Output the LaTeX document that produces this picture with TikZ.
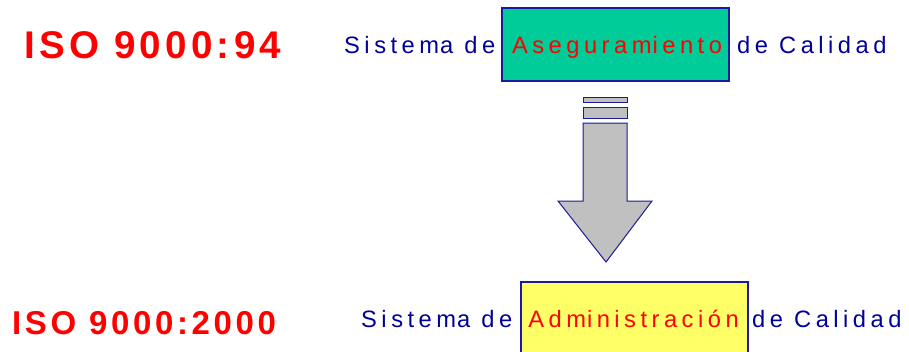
\documentclass[tikz,border=0pt]{standalone}
\usepackage{fontspec}
\setmainfont{Liberation Sans}
\newfontfamily\isofont[LetterSpace=11]{Liberation Sans}
\newfontfamily\txtfont[LetterSpace=19]{Liberation Sans}
\definecolor{navy}{HTML}{000099}
\definecolor{boxgreen}{HTML}{00CC99}
\definecolor{boxyellow}{HTML}{FFFF66}
\definecolor{arrowgray}{HTML}{C0C0C0}
\definecolor{edge}{HTML}{1A1A9A}
\tikzset{
  iso/.style={text=red, anchor=base west, inner sep=0pt, font=\isofont\bfseries},
  plain/.style={text=navy, anchor=base west, inner sep=0pt, font=\txtfont\fontsize{23.7}{28}\selectfont},
  inbox/.style={text=red, anchor=base, inner sep=0pt, font=\txtfont\fontsize{23.7}{28}\selectfont},
  boxline/.style={draw=edge, line width=1.3pt},
}
\begin{document}
\begin{tikzpicture}[x=1pt,y=-1pt]
\useasboundingbox (0,0) rectangle (909,351);
% ISO labels
\node[iso, font=\isofont\bfseries\fontsize{38.6}{44}\selectfont] (iso94) at (24,58) {ISO 9000:94};
\node[iso, font=\isofont\bfseries\fontsize{33}{38}\selectfont] (iso2000) at (12,334) {ISO 9000:2000};
% top row
\fill[boxgreen] (502,8) rectangle (729,81);
\draw[boxline] (502,8) rectangle (729,81);
\node[plain] (s1) at (344,53) {Sistem\kern1pt a de};
\node[inbox] (b1) at (617,53) {Aseguram\kern1pt iento};
\node[plain] (c1) at (737,53) {de Calidad};
% bottom row
\fill[boxyellow] (521,282) rectangle (748,355);
\draw[boxline] (521,282) rectangle (748,355);
\node[plain] (s2) at (361,327) {Sistem\kern1pt a de};
\node[inbox] (b2) at (633.5,327) {Adm\kern1pt inistración};
\node[plain] (c2) at (752,327) {de Calidad};
% arrow
\draw[boxline, fill=arrowgray, line width=1pt] (583,97) rectangle (627,102);
\draw[boxline, fill=arrowgray, line width=1pt] (583,107) rectangle (627,118);
\draw[boxline, fill=arrowgray, line width=1pt, line join=miter]
  (583,123) -- (627,123) -- (627,201) -- (652,201) -- (606,262) -- (558,201) -- (583,201) -- cycle;
\end{tikzpicture}
\end{document}
